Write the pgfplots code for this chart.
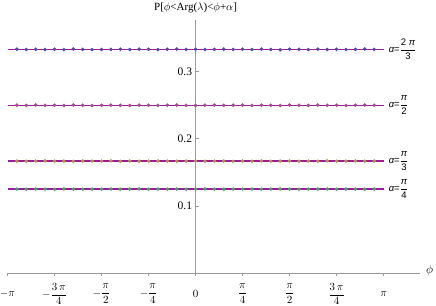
\documentclass[border=0pt]{standalone}
\usepackage{amsmath}
\usepackage{fontspec}
\setmainfont{Liberation Serif}
\newfontfamily\labfont{Liberation Sans}
\usepackage{pgfplots}
\pgfplotsset{compat=1.18}
\usepackage{pgfplotstable}

\definecolor{mmaline}{rgb}{0.62,0.1,0.62}
\definecolor{dotA}{rgb}{0.30,0.30,0.66}
\definecolor{dotB}{rgb}{0.66,0.30,0.50}
\definecolor{dotC}{rgb}{0.68,0.60,0.28}
\definecolor{dotD}{rgb}{0.28,0.66,0.40}
\definecolor{axgray}{rgb}{0.6,0.6,0.6}

% simulated probabilities, alpha = 2pi/3, pi/2, pi/3, pi/4
\pgfplotstableread{
x       a      b      c      d
-2.9845 0.3336 0.2502 0.1668 0.1251
-2.8274 0.3331 0.2497 0.1664 0.1248
-2.6704 0.3335 0.2503 0.1667 0.1252
-2.5133 0.3330 0.2499 0.1670 0.1249
-2.3562 0.3334 0.2501 0.1665 0.1246
-2.1991 0.3329 0.2496 0.1668 0.1253
-2.0420 0.3338 0.2504 0.1663 0.1250
-1.8850 0.3332 0.2500 0.1669 0.1247
-1.7279 0.3327 0.2495 0.1666 0.1251
-1.5708 0.3330 0.2498 0.1667 0.1249
-1.4137 0.3333 0.2502 0.1671 0.1252
-1.2566 0.3335 0.2499 0.1664 0.1248
-1.0996 0.3331 0.2497 0.1668 0.1250
-0.9425 0.3336 0.2503 0.1665 0.1254
-0.7854 0.3333 0.2500 0.1667 0.1247
-0.6283 0.3328 0.2498 0.1669 0.1251
-0.4712 0.3334 0.2501 0.1666 0.1249
-0.3142 0.3337 0.2504 0.1664 0.1252
-0.1571 0.3332 0.2499 0.1668 0.1248
0.0000  0.3335 0.2496 0.1670 0.1250
0.1571  0.3330 0.2501 0.1665 0.1253
0.3142  0.3333 0.2503 0.1667 0.1249
0.4712  0.3336 0.2498 0.1669 0.1246
0.6283  0.3331 0.2500 0.1663 0.1251
0.7854  0.3334 0.2502 0.1668 0.1250
0.9425  0.3329 0.2497 0.1666 0.1252
1.0996  0.3337 0.2501 0.1670 0.1248
1.2566  0.3332 0.2499 0.1665 0.1250
1.4137  0.3326 0.2496 0.1667 0.1253
1.5708  0.3335 0.2503 0.1669 0.1249
1.7279  0.3333 0.2500 0.1664 0.1247
1.8850  0.3330 0.2498 0.1668 0.1251
2.0420  0.3336 0.2502 0.1666 0.1250
2.1991  0.3331 0.2499 0.1671 0.1252
2.3562  0.3334 0.2501 0.1665 0.1248
2.5133  0.3329 0.2497 0.1667 0.1250
2.6704  0.3333 0.2500 0.1669 0.1251
2.8274  0.3337 0.2503 0.1666 0.1249
2.9845  0.3332 0.2499 0.1668 0.1252
}\simdata

\newcommand{\lf}{\labfont\fontsize{9.5}{11}\selectfont}
\newcommand{\alab}[2]{{\lf\itshape α\upshape=}$\dfrac{\mbox{\lf #1}}{\mbox{\lf #2}}$}

\begin{document}
\begin{tikzpicture}
\begin{axis}[
    name=ax,
    scale only axis,
    width=412.5pt, height=253pt,
    xmin=-3.1416, xmax=3.75,
    ymin=0, ymax=0.377,
    axis lines=middle,
    axis line style={-, axgray, line width=0.7pt},
    hide obscured x ticks=false,
    hide obscured y ticks=false,
    xtick={-3.1416,-2.3562,-1.5708,-0.7854,0,0.7854,1.5708,2.3562,3.1416},
    xticklabels={$-\pi$, $-\dfrac{3\,\pi}{4}$, $-\dfrac{\pi}{2}$, $-\dfrac{\pi}{4}$, $0$,
                 $\dfrac{\pi}{4}$, $\dfrac{\pi}{2}$, $\dfrac{3\,\pi}{4}$, $\pi$},
    ytick={0.1,0.2,0.3},
    yticklabels={0.1,0.2,0.3},
    tick style={axgray, line width=0.6pt},
    major tick length=3pt,
    xtick align=outside,
    ytick align=inside,
    xticklabel style={anchor=center, yshift=-18pt, font=\fontsize{11}{13}\selectfont},
    yticklabel style={font=\fontsize{11.5}{13}\selectfont},
    clip=false,
]
% exact values
\addplot[color=mmaline, line width=1.3pt] coordinates {(-3.1416,0.3333) (3.1416,0.3333)};
\addplot[color=mmaline, line width=1.3pt] coordinates {(-3.1416,0.25) (3.1416,0.25)};
\addplot[color=mmaline, line width=1.3pt] coordinates {(-3.1416,0.1667) (3.1416,0.1667)};
\addplot[color=mmaline, line width=1.3pt] coordinates {(-3.1416,0.125) (3.1416,0.125)};

% simulation points
\addplot[only marks, color=dotA, mark=*, mark size=1.6pt, mark options={draw=dotA, fill=dotA}] table[x=x, y=a] {\simdata};
\addplot[only marks, color=dotB, mark=*, mark size=1.6pt, mark options={draw=dotB, fill=dotB}] table[x=x, y=b] {\simdata};
\addplot[only marks, color=dotC, mark=*, mark size=1.6pt, mark options={draw=dotC, fill=dotC}] table[x=x, y=c] {\simdata};
\addplot[only marks, color=dotD, mark=*, mark size=1.6pt, mark options={draw=dotD, fill=dotD}] table[x=x, y=d] {\simdata};

\node[anchor=west, inner sep=0pt, xshift=5pt] at (axis cs:3.1416,0.3333) {\alab{2 \itshape π}{3}};
\node[anchor=west, inner sep=0pt, xshift=5pt] at (axis cs:3.1416,0.25) {\alab{\itshape π}{2}};
\node[anchor=west, inner sep=0pt, xshift=5pt] at (axis cs:3.1416,0.1667) {\alab{\itshape π}{3}};
\node[anchor=west, inner sep=0pt, xshift=5pt] at (axis cs:3.1416,0.125) {\alab{\itshape π}{4}};

\node[anchor=base, inner sep=0pt, font=\fontsize{11}{13}\selectfont] at (axis cs:0,0.377) [yshift=9.5pt]
    {P[$\phi$<Arg($\lambda$)<$\phi$+$\alpha$]};
\node[anchor=west, inner sep=0pt, font=\fontsize{11.5}{13}\selectfont] at (axis cs:3.75,0) [xshift=6pt, yshift=2pt] {$\phi$};
\end{axis}
\pgfresetboundingbox
\path ([shift={(-7.5pt,-33pt)}]ax.south west) rectangle ([shift={(16pt,20pt)}]ax.north east);
\end{tikzpicture}
\end{document}
